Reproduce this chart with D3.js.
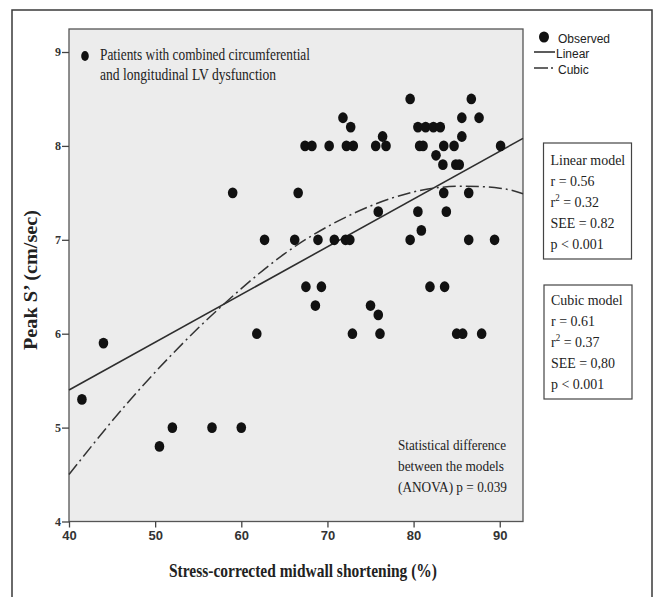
<!DOCTYPE html>
<html>
<head>
<meta charset="utf-8">
<script src="https://cdn.jsdelivr.net/npm/d3@7"></script>
<style>
  body { margin: 0; background: #fff; }
</style>
</head>
<body>
<div id="chart"></div>
<script>
// Observed points
const obsX = [41.5, 44.0, 50.5, 52.0, 56.6, 60.0, 61.8, 59.0, 62.7, 66.2, 66.6, 67.4, 68.2, 67.5, 68.6, 68.9,
  69.3, 70.2, 70.8, 71.8, 72.1, 72.2, 72.6, 72.7, 72.9, 73.0, 75.0, 75.6, 75.9, 75.9, 76.1, 76.4,
  76.8, 79.6, 79.6, 80.5, 80.5, 80.7, 80.9, 81.1, 81.4, 81.9, 82.3, 82.6, 83.1, 83.4, 83.5, 83.5,
  83.6, 83.8, 84.7, 84.9, 85.0, 85.3, 85.6, 85.6, 85.7, 86.4, 86.4, 86.7, 87.6, 87.9, 89.4, 90.1];
const obsY = [5.3, 5.9, 4.8, 5.0, 5.0, 5.0, 6.0, 7.5, 7.0, 7.0, 7.5, 8.0, 8.0, 6.5, 6.3, 7.0,
  6.5, 8.0, 7.0, 8.3, 7.0, 8.0, 7.0, 8.2, 6.0, 8.0, 6.3, 8.0, 6.2, 7.3, 6.0, 8.1,
  8.0, 8.5, 7.0, 8.2, 7.3, 8.0, 7.1, 8.0, 8.2, 6.5, 8.2, 7.9, 8.2, 7.8, 8.0, 7.5,
  6.5, 7.3, 8.0, 7.8, 6.0, 7.8, 8.3, 8.1, 6.0, 7.5, 7.0, 8.5, 8.3, 6.0, 7.0, 8.0];

// Fitted curves
const linearX = [40, 92.7];
const linearY = [5.40, 8.08];
const cubicX = [40, 45, 50, 55, 60, 65, 70, 75, 80, 85, 90, 92.7];
const cubicY = [4.50, 5.07, 5.59, 6.06, 6.48, 6.85, 7.14, 7.36, 7.51, 7.57, 7.55, 7.49];

const xTicks = [40, 50, 60, 70, 80, 90];
const yTicks = [4, 5, 6, 7, 8, 9];

const linearStats = ["Linear model", "r = 0.56", "r^2 = 0.32", "SEE = 0.82", "p < 0.001"];
const cubicStats = ["Cubic model", "r = 0.61", "r^2 = 0.37", "SEE = 0,80", "p < 0.001"];
const groupNote = ["Patients with combined circumferential", "and longitudinal  LV dysfunction"];
const anovaNote = ["Statistical  difference", "between the models", "(ANOVA) p = 0.039"];

const W = 658, H = 597;
const serif = '"Liberation Serif","Times New Roman",serif';
const sans = '"Liberation Sans",Arial,sans-serif';

const svg = d3.select('#chart').append('svg')
  .attr('width', W)
  .attr('height', H);

// outer frame (bottom edge runs off the picture)
svg.append('rect')
  .attr('x', 12).attr('y', 10)
  .attr('width', 640).attr('height', 640)
  .attr('fill', 'none')
  .attr('stroke', '#3a3a3a')
  .attr('stroke-width', 1.5);

const plot = { left: 69, top: 29, right: 523, bottom: 521.5 };
const x = d3.scaleLinear().domain([40, 92.7]).range([plot.left, plot.right]);
const y = d3.scaleLinear().domain([4, 9.245]).range([plot.bottom, plot.top]);

// plot area
svg.append('rect')
  .attr('x', plot.left).attr('y', plot.top)
  .attr('width', plot.right - plot.left)
  .attr('height', plot.bottom - plot.top)
  .attr('fill', '#ececec')
  .attr('stroke', '#555')
  .attr('stroke-width', 1.3);

// axes
const gx = svg.append('g')
  .attr('transform', `translate(0,${plot.bottom})`)
  .call(d3.axisBottom(x).tickValues(xTicks).tickSize(6).tickPadding(3).tickFormat(d3.format('d')));
gx.select('.domain').remove();
gx.selectAll('line').attr('stroke', '#444').attr('stroke-width', 1.3);
gx.selectAll('text')
  .attr('font-family', sans)
  .attr('font-weight', 'bold')
  .attr('font-size', 13)
  .attr('fill', '#333');

const gy = svg.append('g')
  .attr('transform', `translate(${plot.left},0)`)
  .call(d3.axisLeft(y).tickValues(yTicks).tickSize(7).tickPadding(1).tickFormat(d3.format('d')));
gy.select('.domain').remove();
gy.selectAll('line').attr('stroke', '#444').attr('stroke-width', 1.3);
gy.selectAll('text')
  .attr('font-family', serif)
  .attr('font-weight', 'bold')
  .attr('font-size', 12)
  .attr('fill', '#333');

// fit lines
const line = d3.line().x(d => x(d[0])).y(d => y(d[1]));
svg.append('path')
  .datum(linearX.map((v, i) => [v, linearY[i]]))
  .attr('d', line)
  .attr('fill', 'none')
  .attr('stroke', '#2e2e2e')
  .attr('stroke-width', 1.6);

svg.append('path')
  .datum(cubicX.map((v, i) => [v, cubicY[i]]))
  .attr('d', line.curve(d3.curveNatural))
  .attr('fill', 'none')
  .attr('stroke', '#333')
  .attr('stroke-width', 1.5)
  .attr('stroke-dasharray', '13,4,2,4');

// observed points
svg.append('g')
  .selectAll('ellipse')
  .data(obsX.map((v, i) => [v, obsY[i]]))
  .join('ellipse')
  .attr('cx', d => x(d[0]))
  .attr('cy', d => y(d[1]))
  .attr('rx', 4.8)
  .attr('ry', 5.4)
  .attr('fill', '#111');

// legend
const lg = svg.append('g').attr('font-family', sans).attr('font-size', 12).attr('fill', '#222');
lg.append('ellipse').attr('cx', 544).attr('cy', 37).attr('rx', 5).attr('ry', 5.5).attr('fill', '#111');
lg.append('text').attr('x', 558).attr('y', 43).text('Observed');
lg.append('line').attr('x1', 534).attr('x2', 555).attr('y1', 52).attr('y2', 52)
  .attr('stroke', '#333').attr('stroke-width', 1.6);
lg.append('text').attr('x', 556).attr('y', 58).text('Linear');
lg.append('line').attr('x1', 534).attr('x2', 555).attr('y1', 68).attr('y2', 68)
  .attr('stroke', '#333').attr('stroke-width', 1.6).attr('stroke-dasharray', '14,3,2,4');
lg.append('text').attr('x', 558).attr('y', 74).text('Cubic');

// stats boxes
function statBox(lines, bx, by, bw, bh, firstBase) {
  const g = svg.append('g');
  g.append('rect')
    .attr('x', bx).attr('y', by).attr('width', bw).attr('height', bh)
    .attr('fill', '#fff').attr('stroke', '#444').attr('stroke-width', 1.2);
  const tg = g.append('g')
    .attr('transform', `translate(${bx + 7},0) scale(0.9,1)`)
    .attr('font-family', serif).attr('font-size', 15.5).attr('fill', '#222');
  lines.forEach((s, i) => {
    const t = tg.append('text').attr('x', 0).attr('y', firstBase + i * 20.8);
    if (s.includes('^2')) {
      const parts = s.split('^2');
      t.append('tspan').text(parts[0]);
      t.append('tspan').attr('font-size', 10).attr('dy', -6).text('2');
      t.append('tspan').attr('dy', 6).text(parts[1]);
    } else {
      t.text(s);
    }
  });
}
statBox(linearStats, 543.5, 143, 88, 116, 165.5);
statBox(cubicStats, 544, 285, 88, 114, 305.5);

// annotations
const note = svg.append('g').attr('font-family', serif).attr('fill', '#222');
note.append('ellipse').attr('cx', 85).attr('cy', 56).attr('rx', 3.8).attr('ry', 5).attr('fill', '#111');
const noteLen = [210, 176];
groupNote.forEach((s, i) => {
  note.append('text')
    .attr('x', 100).attr('y', 60 + i * 20)
    .attr('font-size', 17)
    .attr('textLength', noteLen[i])
    .attr('lengthAdjust', 'spacingAndGlyphs')
    .text(s);
});
const anovaLen = [108, 106, 109];
anovaNote.forEach((s, i) => {
  note.append('text')
    .attr('x', 398).attr('y', 450 + i * 21)
    .attr('font-size', 15.5)
    .attr('textLength', anovaLen[i])
    .attr('lengthAdjust', 'spacingAndGlyphs')
    .text(s);
});

// axis titles
svg.append('text')
  .attr('x', 303).attr('y', 577)
  .attr('text-anchor', 'middle')
  .attr('font-family', serif).attr('font-weight', 'bold').attr('font-size', 19)
  .attr('fill', '#222')
  .attr('textLength', 268).attr('lengthAdjust', 'spacingAndGlyphs')
  .text('Stress-corrected  midwall  shortening  (%)');

svg.append('text')
  .attr('transform', 'translate(37,280) rotate(-90)')
  .attr('text-anchor', 'middle')
  .attr('font-family', serif).attr('font-weight', 'bold').attr('font-size', 19)
  .attr('fill', '#222')
  .attr('textLength', 140).attr('lengthAdjust', 'spacingAndGlyphs')
  .text('Peak S\u2019 (cm/sec)');
</script>
</body>
</html>
